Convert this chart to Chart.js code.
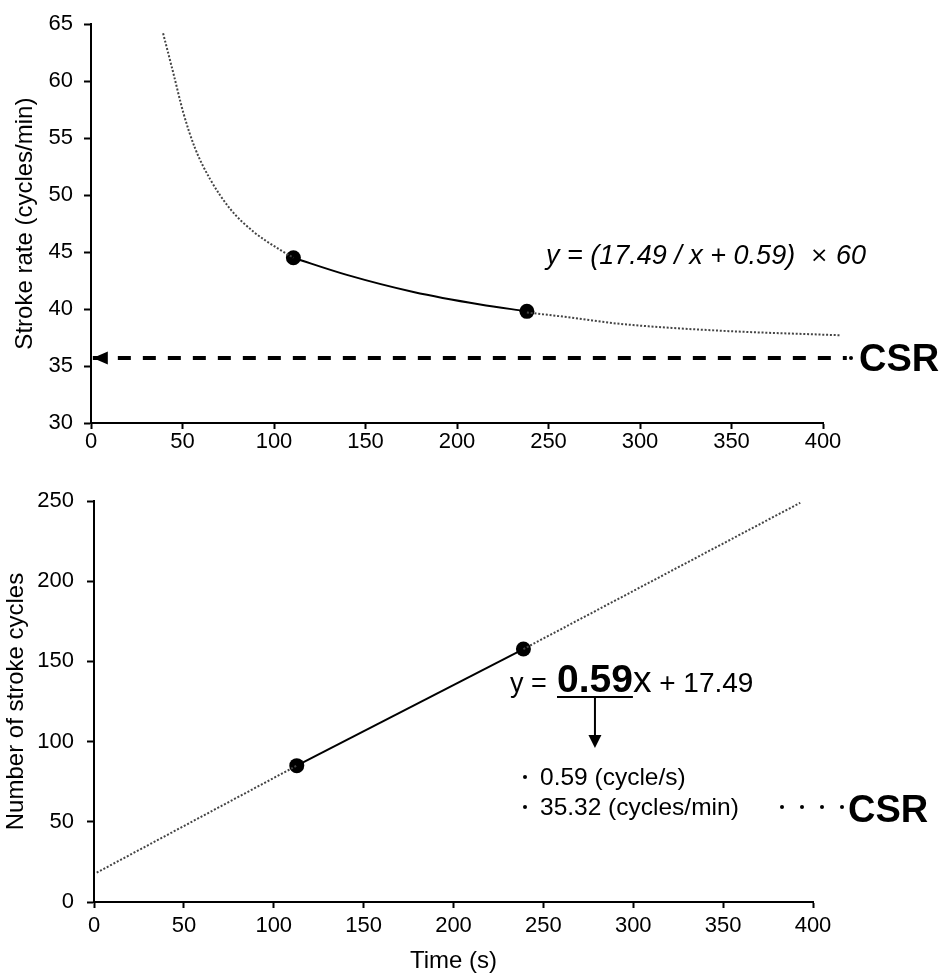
<!DOCTYPE html>
<html>
<head>
<meta charset="utf-8">
<script src="https://cdn.jsdelivr.net/npm/chart.js@4.4.1/dist/chart.umd.min.js"></script>
<style>
  body { margin: 0; background: #fff; }
  canvas { position: absolute; left: 0; }
  #rateChart { top: 0; }
  #cycleChart { top: 470px; }
</style>
</head>
<body>
<canvas id="rateChart" width="947" height="470"></canvas>
<canvas id="cycleChart" width="947" height="508"></canvas>
<script>
"use strict";

/* Stroke rate - upper panel */
const rateTimeLeft = [39.4, 45.0, 50.5, 56.9, 65.1, 76.0, 88.7, 103.3, 110.6];
const rateLeft = [64.2, 60.7, 57.2, 54.1, 51.4, 48.8, 46.8, 45.2, 44.5];
const rateTimeFit = [110.6, 139.8, 176.2, 212.7, 238.2];
const rateFit = [44.5, 43.0, 41.5, 40.4, 39.8];
const rateTimeRight = [238.2, 260.0, 289.2, 343.9, 409.1];
const rateRight = [39.7, 39.3, 38.7, 38.1, 37.7];
const trialTimeTop = [110.6, 238.2];
const trialRate = [44.5, 39.8];
const csrTime = [1, 413];
const csrRate = [35.7, 35.7];

/* Number of stroke cycles - lower panel */
const cycleTimeLeft = [1.5, 112.8];
const cyclesLeft = [18.3, 85.0];
const cycleTimeFit = [112.8, 238.9];
const cyclesFit = [85.0, 157.7];
const cycleTimeRight = [238.9, 392.9];
const cyclesRight = [157.7, 248.9];
const trialTimeBottom = [112.8, 238.9];
const trialCycles = [85.0, 157.7];

const timeTicks = [0, 400, 50];
const rateTicks = [30, 65, 5];
const cycleTicks = [0, 250, 50];

Chart.defaults.font.family = "'Liberation Sans', Arial, sans-serif";
Chart.defaults.color = '#000';

function toPoints(xs, ys) {
  return xs.map((x, i) => ({ x: x, y: ys[i] }));
}

function dotted(xs, ys) {
  return {
    data: toPoints(xs, ys), showLine: true, borderColor: '#444', borderWidth: 2,
    borderDash: [2, 1.8], pointRadius: 0, cubicInterpolationMode: 'monotone', clip: false
  };
}

function solid(xs, ys) {
  return {
    data: toPoints(xs, ys), showLine: true, borderColor: '#000', borderWidth: 2,
    pointRadius: 0, cubicInterpolationMode: 'monotone', clip: false
  };
}

function dots(xs, ys) {
  return {
    data: toPoints(xs, ys), showLine: false, pointRadius: 7.5, pointBorderWidth: 0,
    pointBackgroundColor: '#000', pointBorderColor: '#000', clip: false
  };
}

/* Axis with ticks outside and no grid */
function axis(range, o) {
  return {
    type: 'linear', min: range[0], max: range[1],
    ticks: { stepSize: range[2], font: { size: 22 }, padding: o.pad, color: '#000' },
    grid: { drawOnChartArea: false, drawTicks: true, tickLength: o.tick, tickWidth: 2, tickColor: '#000' },
    border: { color: '#000', width: 2 },
    title: o.title ? { display: true, text: o.title, font: { size: 24 }, color: '#000', padding: o.titlePad } : { display: false },
    afterFit: s => { if (s.isHorizontal()) { s.height = o.size; } else { s.width = o.size; } }
  };
}

function baseOptions(pad, xAxis, yAxis) {
  return {
    responsive: false, animation: false,
    layout: { padding: pad },
    plugins: { legend: { display: false }, tooltip: { enabled: false } },
    scales: { x: xAxis, y: yAxis }
  };
}

function bullet(ctx, x, y) {
  ctx.beginPath();
  ctx.arc(x, y, 2, 0, Math.PI * 2);
  ctx.fill();
}

/* Arrow head, equation and CSR labels on upper panel */
const rateNotes = {
  id: 'rateNotes',
  afterDatasetsDraw(chart) {
    const ctx = chart.ctx;
    const tipX = chart.scales.x.getPixelForValue(csrTime[0]);
    const lineY = chart.scales.y.getPixelForValue(csrRate[0]);
    ctx.save();
    ctx.fillStyle = '#000';
    ctx.beginPath();
    ctx.moveTo(tipX, lineY);
    ctx.lineTo(tipX + 15, lineY - 6.5);
    ctx.lineTo(tipX + 15, lineY + 6.5);
    ctx.closePath();
    ctx.fill();
    bullet(ctx, 851, lineY);
    ctx.font = "bold 38px 'Liberation Sans'";
    ctx.fillText('CSR', 859, 371);
    ctx.font = "italic 27px 'Liberation Sans'";
    ctx.fillText('y = (17.49 / x + 0.59)', 546, 264);
    ctx.fillText('60', 836, 264);
    ctx.font = "22px 'DejaVu Sans'";
    ctx.fillText('\u00d7', 810, 262);
    ctx.restore();
  }
};

/* Regression equation and CSR text on lower panel */
const cycleNotes = {
  id: 'cycleNotes',
  afterDatasetsDraw(chart) {
    const ctx = chart.ctx;
    ctx.save();
    ctx.fillStyle = '#000';
    ctx.strokeStyle = '#000';
    let x = 510;
    const base = 222;
    ctx.font = "27px 'Liberation Sans'";
    ctx.fillText('y = ', x, base);
    x = 557;
    ctx.font = "bold 39px 'Liberation Sans'";
    const uStart = x;
    ctx.fillText('0.59', x, base);
    x += ctx.measureText('0.59').width;
    const uEnd = x;
    ctx.font = "37px 'Liberation Sans'";
    ctx.fillText('x', x, base);
    x += ctx.measureText('x').width;
    ctx.font = "28px 'Liberation Sans'";
    ctx.fillText(' + 17.49', x, base);

    ctx.lineWidth = 2;
    ctx.beginPath();
    ctx.moveTo(uStart, 227);
    ctx.lineTo(uEnd, 227);
    const ax = (uStart + uEnd) / 2;
    ctx.moveTo(ax, 227);
    ctx.lineTo(ax, 266);
    ctx.stroke();
    ctx.beginPath();
    ctx.moveTo(ax - 6.5, 265);
    ctx.lineTo(ax + 6.5, 265);
    ctx.lineTo(ax, 278);
    ctx.closePath();
    ctx.fill();

    ctx.font = "24.5px 'Liberation Sans'";
    bullet(ctx, 525, 307);
    ctx.fillText('0.59 (cycle/s)', 540, 315);
    bullet(ctx, 525, 337);
    ctx.fillText('35.32 (cycles/min)', 540, 345);
    [782, 802, 822, 842].forEach(d => bullet(ctx, d, 337));
    ctx.font = "bold 38px 'Liberation Sans'";
    ctx.fillText('CSR', 848, 352);
    ctx.restore();
  }
};

function createRateChart() {
  const ctx = document.getElementById('rateChart');
  const csrLine = {
    data: toPoints(csrTime, csrRate), showLine: true, borderColor: '#000', borderWidth: 4,
    borderDash: [13, 12], pointRadius: 0, clip: false
  };
  new Chart(ctx, {
    type: 'scatter',
    data: {
      datasets: [
        dotted(rateTimeLeft, rateLeft),
        dotted(rateTimeRight, rateRight),
        solid(rateTimeFit, rateFit),
        csrLine,
        dots(trialTimeTop, trialRate)
      ]
    },
    options: baseOptions({ left: 0, top: 21, right: 124, bottom: 0 },
      axis(timeTicks, { pad: 0, tick: 6, size: 47 }),
      axis(rateTicks, { pad: 11, tick: 7, size: 91, title: 'Stroke rate (cycles/min)', titlePad: { top: 11, bottom: 0 } })),
    plugins: [rateNotes]
  });
}

function createCycleChart() {
  const ctx = document.getElementById('cycleChart');
  new Chart(ctx, {
    type: 'scatter',
    data: {
      datasets: [
        dotted(cycleTimeLeft, cyclesLeft),
        dotted(cycleTimeRight, cyclesRight),
        solid(cycleTimeFit, cyclesFit),
        dots(trialTimeBottom, trialCycles)
      ]
    },
    options: baseOptions({ left: 0, top: 31, right: 134, bottom: 0 },
      axis(timeTicks, { pad: 5, tick: 6, size: 76, title: 'Time (s)', titlePad: { top: 0, bottom: 2 } }),
      axis(cycleTicks, { pad: 13, tick: 7, size: 94, title: 'Number of stroke cycles', titlePad: { top: 2, bottom: 0 } })),
    plugins: [cycleNotes]
  });
}

createRateChart();
createCycleChart();
</script>
</body>
</html>
